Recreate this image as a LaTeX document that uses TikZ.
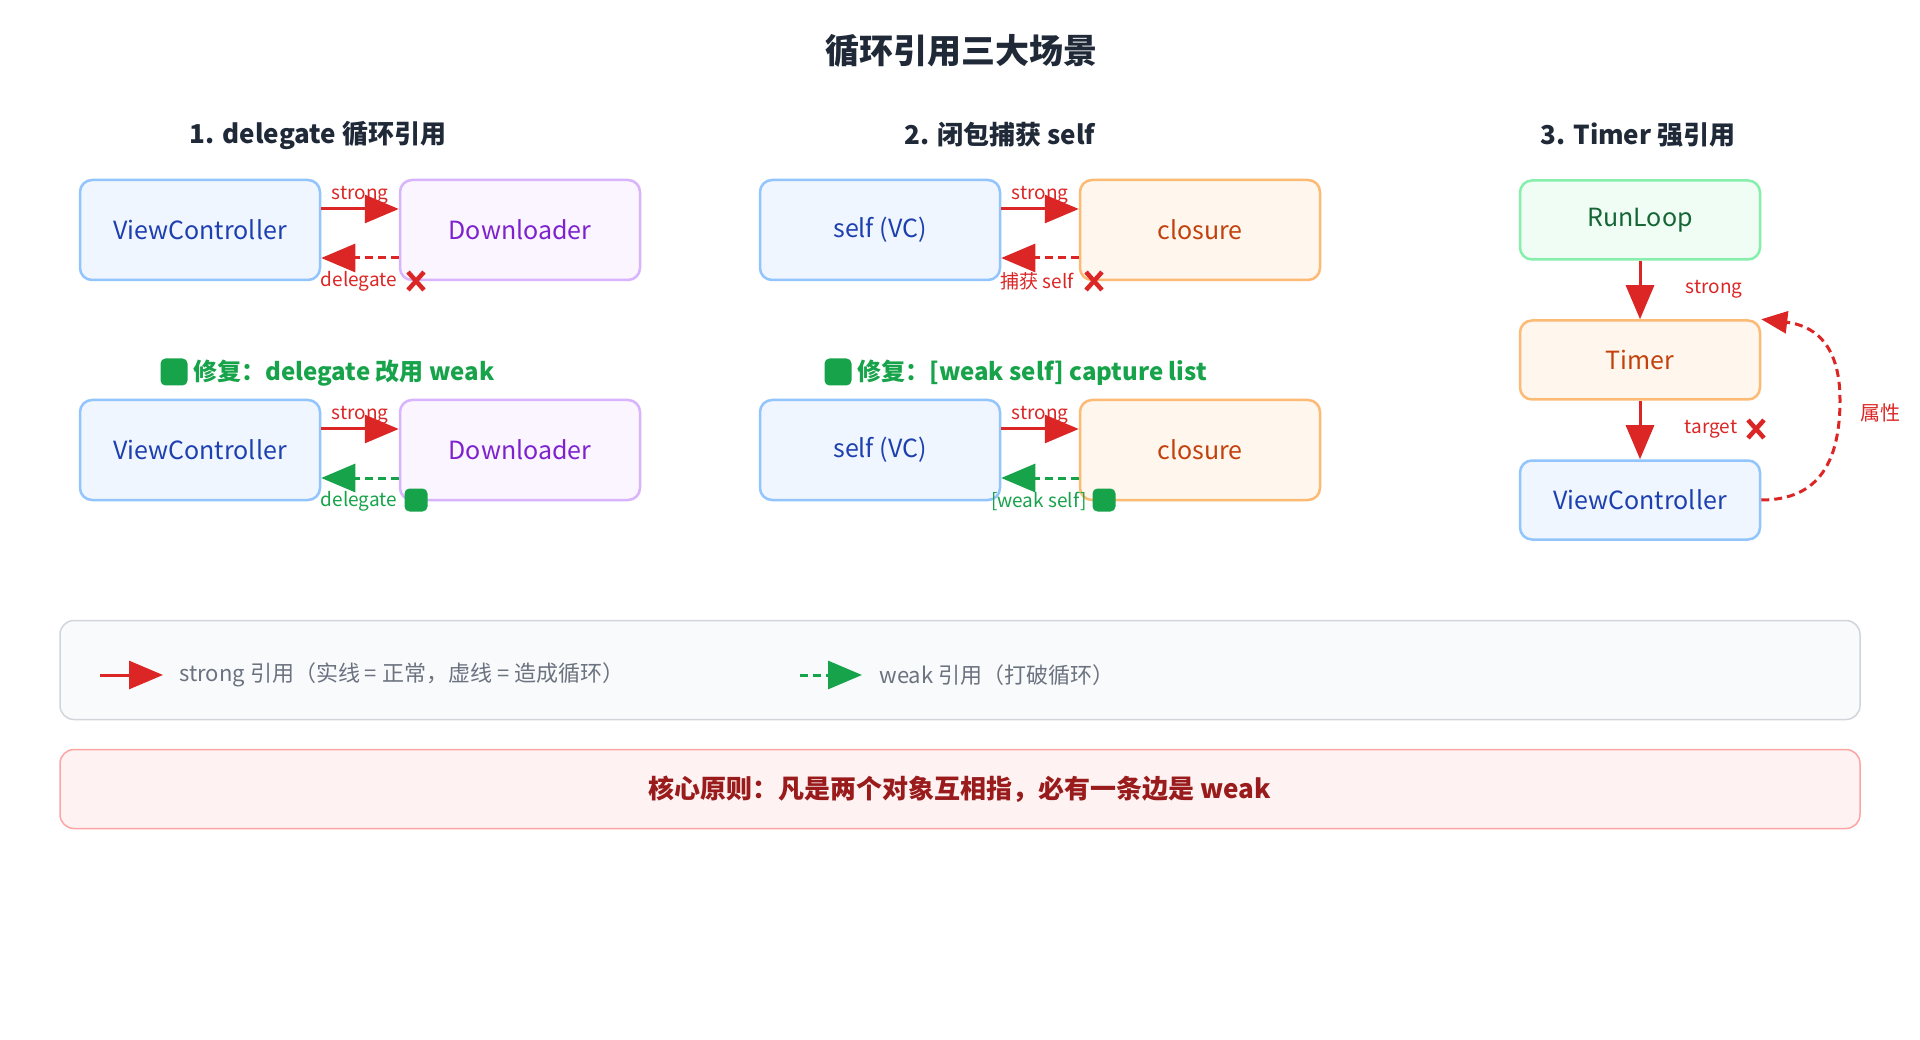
\documentclass[tikz,border=0pt]{standalone}
\usepackage{fontspec}
\setmainfont{Noto Sans CJK SC}
\usetikzlibrary{arrows.meta}
\definecolor{red}{HTML}{DC2626}
\definecolor{grn}{HTML}{16A34A}
\definecolor{bB}{HTML}{93C5FD}\definecolor{bF}{HTML}{EFF6FF}\definecolor{bT}{HTML}{1E40AF}
\definecolor{pB}{HTML}{D8B4FE}\definecolor{pF}{HTML}{FAF5FF}\definecolor{pT}{HTML}{7E22CE}
\definecolor{oB}{HTML}{FDBA74}\definecolor{oF}{HTML}{FFF7ED}\definecolor{oT}{HTML}{C2410C}
\definecolor{gB}{HTML}{86EFAC}\definecolor{gF}{HTML}{F0FDF4}\definecolor{gT}{HTML}{166534}
\definecolor{lF}{HTML}{F9FAFB}\definecolor{lB}{HTML}{D1D5DB}\definecolor{lT}{HTML}{6B7280}
\definecolor{cF}{HTML}{FEF2F2}\definecolor{cB}{HTML}{FCA5A5}\definecolor{cT}{HTML}{991B1B}
\definecolor{ink}{HTML}{1F2937}
\begin{document}
\begin{tikzpicture}[x=1pt,y=-1pt,
 box/.style={draw=#1B,fill=#1F,text=#1T,line width=2.5pt,rounded corners=12pt,font=\fontsize{25}{28}\selectfont,minimum width=240pt,inner sep=0pt},
 big/.style={box=#1,minimum height=100pt},
 tall/.style={box=#1,minimum height=79pt},
 tip/.style={-{Triangle[length=34pt,width=28pt]}},
 strong/.style={red,line width=3pt,tip},
 weakr/.style={red,line width=3pt,dash pattern=on 8pt off 5pt,tip},
 weakg/.style={grn,line width=3pt,dash pattern=on 8pt off 5pt,tip},
 lab/.style={font=\fontsize{19}{21}\selectfont,inner sep=1pt},
 head/.style={font=\fontsize{26}{30}\selectfont\bfseries,text=ink},
 xmark/.style={red,line width=4.5pt},
 ok/.style={fill=grn,rounded corners=5pt,minimum size=27pt,inner sep=0pt}]
\useasboundingbox (0,0) rectangle (1920,1040);
\fill[white] (0,0) rectangle (1920,1040);
\node[font=\fontsize{34}{40}\selectfont\bfseries,text=ink] (title) at (961,51) {循环引用三大场景};
\node[head] (h1) at (318,135) {1. delegate 循环引用};
\node[head] (h2) at (1000,135) {2. 闭包捕获 self};
\node[head] (h3) at (1638,135) {3. Timer 强引用};
% scenario 1
\node[big=b] (vc1) at (200,230) {ViewController};
\node[big=p] (dl1) at (520,230) {Downloader};
\draw[strong] (vc1.east|-0,209) -- (dl1.west|-0,209) node[lab,text=red,midway,above=2pt] (s1) {strong};
\draw[weakr] (dl1.west|-0,258) -- (vc1.east|-0,258);
\node[lab,text=red] (d1) at (359,281) {delegate};
\draw[xmark] (408,272)--(424,290) (424,272)--(408,290);
\node[ok] (ok1) at (174,372) {};
\node[font=\fontsize{24}{28}\selectfont\bfseries,text=grn,anchor=west] (f1) at (190,373) {修复：delegate 改用 weak};
\node[big=b] (vc2) at (200,450) {ViewController};
\node[big=p] (dl2) at (520,450) {Downloader};
\draw[strong] (vc2.east|-0,429) -- (dl2.west|-0,429) node[lab,text=red,midway,above=2pt] (s2) {strong};
\draw[weakg] (dl2.west|-0,478) -- (vc2.east|-0,478);
\node[lab,text=grn] (d2) at (359,501) {delegate};
\node[ok,minimum size=23pt] (ok2) at (416,500) {};
% scenario 2
\node[big=b] (sv1) at (880,230) {self (VC)};
\node[big=o] (cl1) at (1200,230) {closure};
\draw[strong] (sv1.east|-0,209) -- (cl1.west|-0,209) node[lab,text=red,midway,above=2pt] (s3) {strong};
\draw[weakr] (cl1.west|-0,258) -- (sv1.east|-0,258);
\node[lab,text=red] (c1) at (1037,281) {捕获 self};
\draw[xmark] (1086,272)--(1102,290) (1102,272)--(1086,290);
\node[ok] (ok3) at (838,372) {};
\node[font=\fontsize{24}{28}\selectfont\bfseries,text=grn,anchor=west] (f2) at (854,373) {修复：[weak self] capture list};
\node[big=b] (sv2) at (880,450) {self (VC)};
\node[big=o] (cl2) at (1200,450) {closure};
\draw[strong] (sv2.east|-0,429) -- (cl2.west|-0,429) node[lab,text=red,midway,above=2pt] (s4) {strong};
\draw[weakg] (cl2.west|-0,478) -- (sv2.east|-0,478);
\node[lab,text=grn] (c2) at (1039,501) {[weak self]};
\node[ok,minimum size=23pt] (ok4) at (1104,500) {};
% scenario 3
\node[tall=g] (rl) at (1640,220) {RunLoop};
\node[tall=o] (tm) at (1640,360) {Timer};
\node[tall=b] (vc3) at (1640,500) {ViewController};
\draw[strong] (rl) -- (tm);
\draw[strong] (tm) -- (vc3);
\node[lab,text=red] (s5) at (1714,289) {strong};
\node[lab,text=red] (t5) at (1711,429) {target};
\draw[xmark] (1748,420)--(1764,438) (1764,420)--(1748,438);
\draw[weakr,-{Triangle[length=26pt,width=22pt]}] (vc3.east) .. controls (1820,500) and (1840,460) .. (1840,400) .. controls (1840,340) and (1810,325) .. (tm.north east);
\node[lab,text=red,font=\fontsize{20}{22}\selectfont] (p5) at (1880,413) {属性};
% legend
\node[draw=lB,fill=lF,line width=1.5pt,rounded corners=14pt,minimum width=1800pt,minimum height=99pt] (leg) at (960,670) {};
\coordinate (la) at (100,675); \coordinate (lb) at (163,675);
\draw[strong] (la) -- (lb);
\node[anchor=west,text=lT,font=\fontsize{22}{26}\selectfont] (lt1) at (176,675) {strong 引用（实线 = 正常，虚线 = 造成循环）};
\coordinate (lc) at (800,675); \coordinate (ld) at (862,675);
\draw[weakg] (lc) -- (ld);
\node[anchor=west,text=lT,font=\fontsize{22}{26}\selectfont] (lt2) at (876,675) {weak 引用（打破循环）};
\node[draw=cB,fill=cF,line width=1.5pt,rounded corners=14pt,minimum width=1800pt,minimum height=79pt,text=cT,font=\fontsize{26}{30}\selectfont\bfseries] (core) at (960,789) {核心原则：凡是两个对象互相指，必有一条边是 weak};
\end{tikzpicture}
\end{document}
